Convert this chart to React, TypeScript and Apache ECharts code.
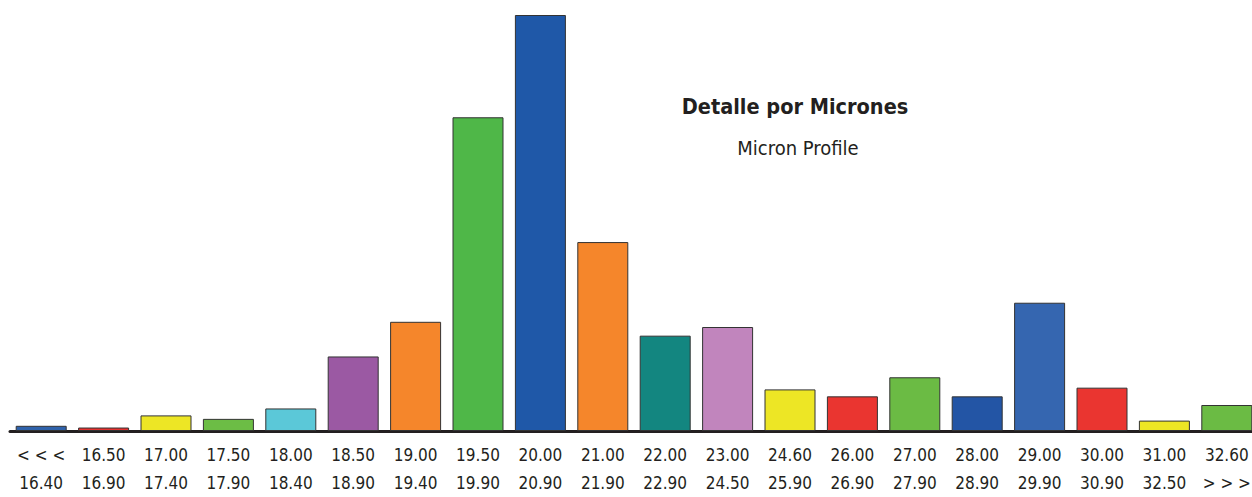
import React, { useEffect, useRef } from "react";
import * as echarts from "echarts";

const topLabels = ["< < <", "16.50", "17.00", "17.50", "18.00", "18.50", "19.00", "19.50", "20.00", "21.00", "22.00", "23.00", "24.60", "26.00", "27.00", "28.00", "29.00", "30.00", "31.00", "32.60"];
const bottomLabels = ["16.40", "16.90", "17.40", "17.90", "18.40", "18.90", "19.40", "19.90", "20.90", "21.90", "22.90", "24.50", "25.90", "26.90", "27.90", "28.90", "29.90", "30.90", "32.50", "> > >"];
const values = [0.3, 0.2, 0.9, 0.7, 1.3, 4.3, 6.3, 18.1, 24.0, 10.9, 5.5, 6.0, 2.4, 2.0, 3.1, 2.0, 7.4, 2.5, 0.6, 1.5];
const barColors = ["#2f62ab", "#e8312f", "#ede625", "#6cbd45", "#5bc8d8", "#9b59a3", "#f5862b", "#4fb748", "#1f58a8", "#f5862b", "#138680", "#c185bd", "#ede625", "#ea3530", "#6bbb44", "#2355a5", "#3566b0", "#ea3530", "#ede625", "#6bbb44"];

const title = "Detalle por Micrones";
const subtitle = "Micron Profile";

const FONT = "'DejaVu Sans Condensed', 'DejaVu Sans', sans-serif";

export default function App() {
  const ref = useRef<HTMLDivElement>(null);
  useEffect(() => {
    if (!ref.current) return;
    const chart = echarts.init(ref.current, undefined, { renderer: "svg" });
    chart.setOption({
      animation: false,
      backgroundColor: "#ffffff",
      grid: { left: 10, right: 2, top: 15, bottom: 60, containLabel: false },
      title: [
        {
          text: title,
          left: 790,
          top: 90,
          textAlign: "center",
          textStyle: { fontFamily: FONT, fontWeight: "bold", fontSize: 21.5, color: "#231f20" },
        },
        {
          text: subtitle,
          left: 793,
          top: 133,
          textAlign: "center",
          textStyle: { fontFamily: FONT, fontWeight: "normal", fontSize: 20, color: "#231f20" },
        },
      ],
      xAxis: {
        type: "category",
        data: topLabels.map((t, i) => t + "\n" + bottomLabels[i]),
        axisLine: { show: true, lineStyle: { color: "#231f20", width: 3 } },
        axisTick: { show: false },
        axisLabel: {
          interval: 0,
          margin: 10,
          fontFamily: FONT,
          fontSize: 17,
          lineHeight: 28,
          color: "#231f20",
        },
      },
      yAxis: {
        type: "value",
        min: 0,
        max: 24,
        show: false,
        splitLine: { show: false },
      },
      series: [
        {
          type: "bar",
          barWidth: 51,
          data: values.map((v, i) => ({
            value: v,
            itemStyle: { color: barColors[i], borderColor: "#333333", borderWidth: 1 },
          })),
        },
      ],
    });
    return () => chart.dispose();
  }, []);
  return (
    <div style={{ position: "fixed", left: 0, top: 0, width: 1252, height: 497, overflow: "hidden", background: "#fff" }}>
      <div ref={ref} style={{ width: 1260, height: 497 }} />
    </div>
  );
}
